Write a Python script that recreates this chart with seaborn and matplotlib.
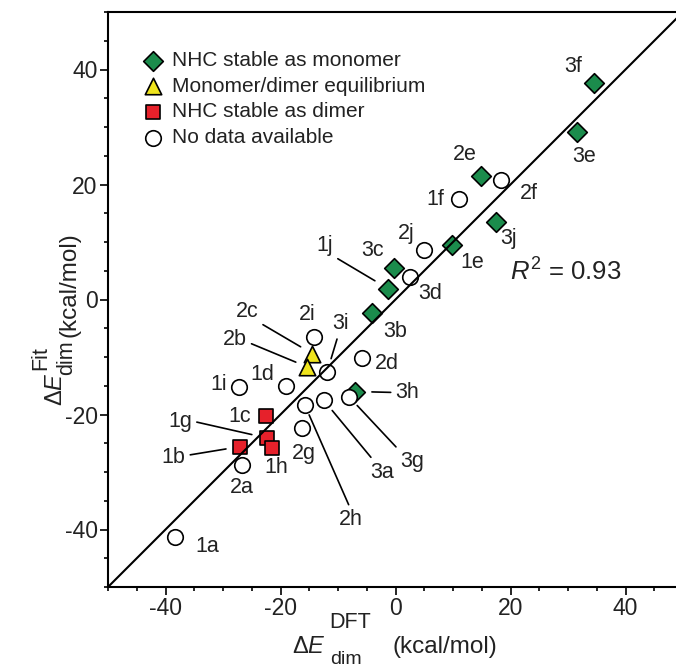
import matplotlib
matplotlib.use('Agg')
import matplotlib.pyplot as plt
import pandas as pd
import seaborn as sns
from matplotlib.ticker import MultipleLocator

# Valores (kcal/mol)
names = ['3f', '3e', '2e', '3j', '1e', '3c', '1j', '3b', '3h',
         '2c', '2b',
         '1c', '1g', '1h', '1b',
         '2f', '1f', '2j', '3d', '2i', '3i', '2d', '1i', '1d',
         '2h', '3a', '3g', '2g', '2a', '1a']
dft = [34.6, 31.6, 14.9, 17.4, 9.8, -0.2, -1.3, -4.1, -7.0,
       -14.5, -15.4,
       -22.5, -22.3, -21.5, -27.1,
       18.3, 11.0, 4.9, 2.6, -14.2, -11.9, -5.8, -27.3, -19.1,
       -15.8, -12.5, -8.1, -16.2, -26.7, -38.3]
fit = [37.6, 29.2, 21.5, 13.5, 9.5, 5.4, 1.9, -2.4, -16.0,
       -9.4, -11.7,
       -20.3, -24.1, -25.9, -25.6,
       20.7, 17.5, 8.6, 4.0, -6.5, -12.6, -10.2, -15.3, -15.0,
       -18.3, -17.5, -16.9, -22.4, -28.8, -41.3]
group = (['NHC stable as monomer'] * 9 + ['Monomer/dimer equilibrium'] * 2
         + ['NHC stable as dimer'] * 4 + ['No data available'] * 15)
r2 = 0.93

df = pd.DataFrame({'name': names, 'dft': dft, 'fit': fit, 'group': group})

legend_order = ['NHC stable as monomer', 'Monomer/dimer equilibrium',
                'NHC stable as dimer', 'No data available']
draw_order = ['NHC stable as monomer', 'No data available',
              'Monomer/dimer equilibrium', 'NHC stable as dimer']
markers = {'NHC stable as monomer': 'D', 'Monomer/dimer equilibrium': '^',
           'NHC stable as dimer': 's', 'No data available': 'o'}
colors = {'NHC stable as monomer': '#1b8c4c', 'Monomer/dimer equilibrium': '#efe41e',
          'NHC stable as dimer': '#e6212b', 'No data available': 'white'}
sizes = {'NHC stable as monomer': 100, 'Monomer/dimer equilibrium': 140,
         'NHC stable as dimer': 112, 'No data available': 125}

# deslocamento dos rótulos em pixels (dx, dy) e linhas-guia
label_offsets = {
    '3f': (-21, 17), '3e': (7, -25), '2e': (-16, 21), '3j': (13, -17),
    '1e': (20, -18), '3c': (-22, 18), '3b': (23, -18), '2f': (28, -13),
    '1f': (-23, -1), '2j': (-17, 17), '3d': (20, -17), '2i': (-7, 22),
    '2d': (25, -5), '1i': (-20, 3), '1d': (-23, 11), '1c': (-26, 0),
    '1h': (4, -19), '2a': (0, -22), '2g': (2, -25), '1a': (32, -10),
}
leaders = {
    # nome: (dx, dy, relpos, shrinkB)
    '1j': (-63, 43, (1, 0), 11),
    '2c': (-65, 42, (1, 0), 9.6),
    '2b': (-72, 27, (1, 0.4), 8.7),
    '3i': (13, 48, (0.4, 0), 10),
    '3h': (52, -1, (0, 0.5), 12),
    '1g': (-87, 17, (1, 0.5), 11.4),
    '1b': (-66, -11, (1, 0.6), 10),
    '2h': (46, -115, (0.5, 1), 8),
    '3a': (58, -72, (0.2, 1), 9.7),
    '3g': (63, -65, (0, 1), 8.7),
}

sns.set_theme(style='ticks')
plt.rcParams['font.family'] = ['Liberation Sans', 'DejaVu Sans']
plt.rcParams['mathtext.fontset'] = 'custom'
plt.rcParams['mathtext.rm'] = 'Liberation Sans'
plt.rcParams['mathtext.it'] = 'Liberation Sans:italic'
plt.rcParams['axes.unicode_minus'] = False

W, H = 676, 669
fig = plt.figure(figsize=(W / 100, H / 100), dpi=100)
ax = fig.add_axes([108 / W, 82 / H, 575 / W, 575 / H])

for i, grp in enumerate(draw_order):
    sub = df[df['group'] == grp]
    sns.scatterplot(data=sub, x='dft', y='fit', marker=markers[grp], s=sizes[grp],
                    color=colors[grp], edgecolor='black', linewidth=1.2,
                    label=grp, legend=False, ax=ax, zorder=3 + i)

ax.axline((0, 0), slope=1, color='black', lw=1.5, zorder=10)

for _, row in df.iterrows():
    n = row['name']
    if n in leaders:
        dx, dy, rp, sb = leaders[n]
        ax.annotate(n, xy=(row['dft'], row['fit']), xytext=(dx, dy),
                    textcoords='offset pixels', ha='center', va='center', fontsize=15.5,
                    color='#222222',
                    arrowprops=dict(arrowstyle='-', color='black', lw=1.2,
                                    relpos=rp, shrinkA=1, shrinkB=sb), zorder=12)
    else:
        dx, dy = label_offsets[n]
        ax.annotate(n, xy=(row['dft'], row['fit']), xytext=(dx, dy),
                    textcoords='offset pixels', ha='center', va='center', fontsize=15.5,
                    color='#222222', zorder=12)

ax.text(20.0, 4.8, r'$R^2$ = ' + f'{r2:.2f}', ha='left', va='center',
        fontsize=18.5, color='#222222')

ax.set_xlim(-50, 50)
ax.set_ylim(-50, 50)
ax.set_xlabel('')
ax.set_ylabel('')
ax.xaxis.set_major_locator(MultipleLocator(20))
ax.yaxis.set_major_locator(MultipleLocator(20))
ax.xaxis.set_minor_locator(MultipleLocator(5))
ax.yaxis.set_minor_locator(MultipleLocator(5))
ax.tick_params(which='major', direction='out', length=5.5, width=1.2,
               labelsize=16.5, color='black', labelcolor='#222222', pad=2)
ax.tick_params(which='minor', direction='out', length=3, width=1.2, color='black')
ax.tick_params(top=False, right=False, which='both')
for side in ['left', 'bottom', 'top']:
    ax.spines[side].set_linewidth(1.5)
    ax.spines[side].set_color('black')
ax.spines['right'].set_visible(False)


def ftext(x, y, s, size, rot=0, va='center'):
    # texto posicionado em pixels da figura (origem no canto superior esquerdo)
    fig.text(x / W, 1 - y / H, s, fontsize=size, rotation=rot, ha='center',
             va=va, color='#222222')


# rótulo do eixo x: ΔE com índices empilhados, como no original
ftext(309, 647, r'$\Delta E$', 17)
ftext(350, 622, 'DFT', 15.5)
ftext(346, 668, 'dim', 14, va='bottom')
ftext(445, 647, '(kcal/mol)', 17.5)

# rótulo do eixo y (girado, lido de baixo para cima)
ftext(56, 389, r'$\Delta E$', 17, 90)
ftext(41, 358, 'Fit', 15.5, 90)
ftext(67, 358, 'dim', 15.5, 90)
ftext(70, 285, '(kcal/mol)', 17.5, 90)

handles, labels = ax.get_legend_handles_labels()
hmap = dict(zip(labels, handles))
ax.legend([hmap[g] for g in legend_order], legend_order, loc='upper left',
          bbox_to_anchor=(0.06, 0.932), frameon=False, fontsize=15,
          handlelength=1.0, handletextpad=0.4, labelspacing=0.32,
          borderpad=0, borderaxespad=0, scatterpoints=1,
          labelcolor='#222222')

fig.savefig('out.png', dpi=100)
